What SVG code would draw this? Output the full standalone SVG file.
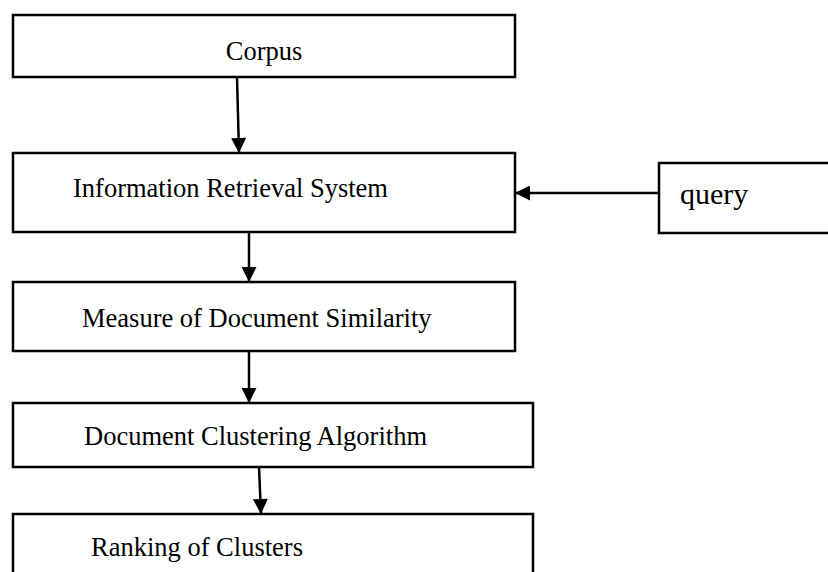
<svg xmlns="http://www.w3.org/2000/svg" width="828" height="572" viewBox="0 0 828 572">
<defs>
<style>
.box{fill:#fff;stroke:#000;stroke-width:2.5}
.t{font-family:"Liberation Serif","Times New Roman",serif;font-size:26.5px;fill:#000}
.q{font-family:"Liberation Serif","Times New Roman",serif;font-size:30px;fill:#000}
.c{stroke:#000;stroke-width:2.5;fill:none}
</style>
<marker id="ah" viewBox="0 0 10 10" refX="10" refY="5" markerWidth="16" markerHeight="15" markerUnits="userSpaceOnUse" orient="auto">
<path d="M0,0 L10,5 L0,10 z" fill="#000"/>
</marker>
</defs>
<rect width="828" height="572" fill="#fff"/>
<g id="corpus">
<rect class="box" x="13" y="15" width="502" height="62"/>
<text class="t" x="264" y="60" text-anchor="middle">Corpus</text>
</g>
<g id="irs">
<rect class="box" x="13" y="153" width="502" height="79"/>
<text class="t" x="73" y="197">Information Retrieval System</text>
</g>
<g id="query">
<rect class="box" x="659" y="163" width="172" height="70"/>
<text class="q" x="680" y="204">query</text>
</g>
<g id="mds">
<rect class="box" x="13" y="282" width="502" height="69"/>
<text class="t" x="82" y="327">Measure of Document Similarity</text>
</g>
<g id="dca">
<rect class="box" x="13" y="403" width="520" height="64"/>
<text class="t" x="84" y="445">Document Clustering Algorithm</text>
</g>
<g id="ranking">
<rect class="box" x="13" y="514" width="520" height="62"/>
<text class="t" x="91" y="556">Ranking of Clusters</text>
</g>
<g id="connectors">
<line class="c" x1="237" y1="77" x2="239" y2="153" marker-end="url(#ah)"/>
<line class="c" x1="659" y1="193" x2="515" y2="193" marker-end="url(#ah)"/>
<line class="c" x1="249" y1="232" x2="249" y2="282" marker-end="url(#ah)"/>
<line class="c" x1="249" y1="351" x2="249" y2="403" marker-end="url(#ah)"/>
<line class="c" x1="259" y1="467" x2="261" y2="514" marker-end="url(#ah)"/>
</g>
</svg>
